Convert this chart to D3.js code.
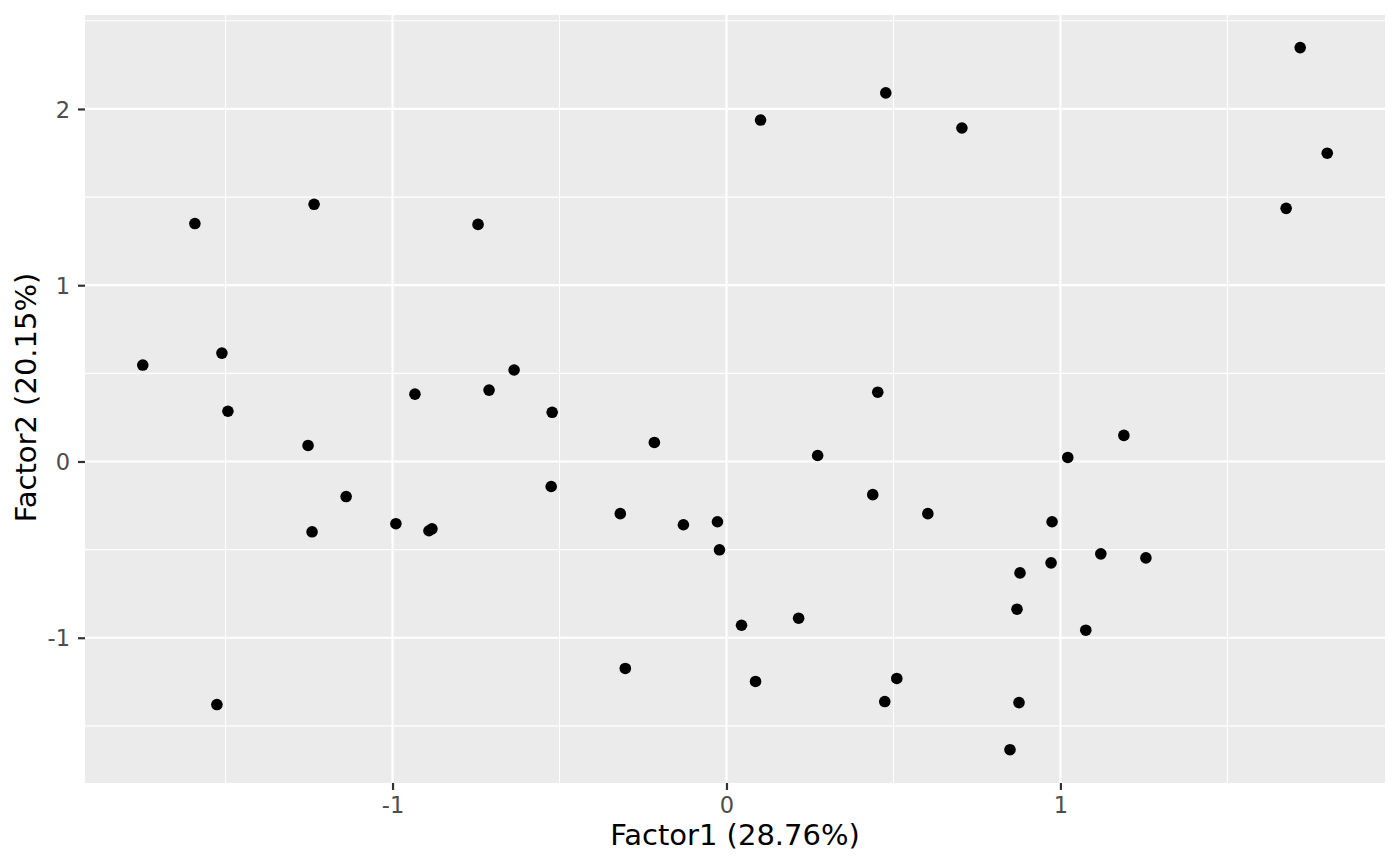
<!DOCTYPE html>
<html>
<head>
<meta charset="utf-8">
<script src="https://cdn.jsdelivr.net/npm/d3@7.9.0/dist/d3.min.js"></script>
<style>
  body { margin: 0; background: #fff; }
  svg { display: block; font-family: "DejaVu Sans", sans-serif; }
</style>
</head>
<body>
<svg id="chart" width="1400" height="866"></svg>
<script>
// factor scores
const factor1 = [-1.748, -1.592, -1.511, -1.493, -1.526, -1.235, -1.253, -1.241, -1.139, -0.990,
  -0.933, -0.891, -0.882, -0.744, -0.711, -0.636, -0.522, -0.525, -0.318, -0.303,
  -0.216, -0.129, -0.027, -0.021, 0.045, 0.087, 0.102, 0.216, 0.273, 0.438,
  0.453, 0.477, 0.474, 0.510, 0.603, 0.705, 0.849, 0.870, 0.879, 0.876,
  0.972, 0.975, 1.022, 1.076, 1.121, 1.190, 1.256, 1.676, 1.718, 1.799];
const factor2 = [0.547, 1.350, 0.615, 0.285, -1.379, 1.459, 0.091, -0.399, -0.199, -0.353,
  0.382, -0.393, -0.382, 1.345, 0.405, 0.519, 0.279, -0.142, -0.296, -1.174,
  0.108, -0.359, -0.342, -0.501, -0.929, -1.248, 1.937, -0.889, 0.034, -0.188,
  0.393, 2.091, -1.362, -1.231, -0.296, 1.892, -1.635, -0.838, -0.632, -1.368,
  -0.575, -0.342, 0.023, -0.957, -0.524, 0.148, -0.547, 1.436, 2.348, 1.749];

const xTicks = [-1, 0, 1];
const yTicks = [-1, 0, 1, 2];
const xMinor = [-1.5, -0.5, 0.5, 1.5];
const yMinor = [-1.5, -0.5, 0.5, 1.5, 2.5];

const points = factor1.map((f, i) => ({ x: f, y: factor2[i] }));

const svg = d3.select('#chart');
const panel = { left: 85, right: 1385, top: 15, bottom: 783 };

const x = d3.scaleLinear().domain([-1.921, 1.972]).range([panel.left, panel.right]);
const y = d3.scaleLinear().domain([-1.824, 2.533]).range([panel.bottom, panel.top]);

svg.append('rect')
  .attr('x', panel.left).attr('y', panel.top)
  .attr('width', panel.right - panel.left)
  .attr('height', panel.bottom - panel.top)
  .attr('fill', '#EBEBEB');

const grid = svg.append('g');
xMinor.forEach(v => grid.append('line')
  .attr('x1', x(v)).attr('x2', x(v)).attr('y1', panel.top).attr('y2', panel.bottom)
  .attr('stroke', '#fff').attr('stroke-width', 1.1));
yMinor.forEach(v => grid.append('line')
  .attr('y1', y(v)).attr('y2', y(v)).attr('x1', panel.left).attr('x2', panel.right)
  .attr('stroke', '#fff').attr('stroke-width', 1.1));
xTicks.forEach(v => grid.append('line')
  .attr('x1', x(v)).attr('x2', x(v)).attr('y1', panel.top).attr('y2', panel.bottom)
  .attr('stroke', '#fff').attr('stroke-width', 2.2));
yTicks.forEach(v => grid.append('line')
  .attr('y1', y(v)).attr('y2', y(v)).attr('x1', panel.left).attr('x2', panel.right)
  .attr('stroke', '#fff').attr('stroke-width', 2.2));

// R prints a plain hyphen for negatives
const fmt = d => String(d);

const xAxis = svg.append('g')
  .attr('transform', `translate(0,${panel.bottom})`)
  .call(d3.axisBottom(x).tickValues(xTicks).tickSize(7).tickPadding(6).tickFormat(fmt));
const yAxis = svg.append('g')
  .attr('transform', `translate(${panel.left},0)`)
  .call(d3.axisLeft(y).tickValues(yTicks).tickSize(7).tickPadding(8).tickFormat(fmt));

[xAxis, yAxis].forEach(a => {
  a.attr('font-size', null).attr('font-family', null);
  a.select('.domain').remove();
  a.selectAll('line').attr('stroke', '#333333').attr('stroke-width', 2.2);
  a.selectAll('text')
    .attr('fill', '#4D4D4D')
    .style('font-size', '22.5px')
    .style('font-family', '"DejaVu Sans", sans-serif');
});
xAxis.selectAll('text').attr('dy', '0.74em');
yAxis.selectAll('text').attr('dy', '0.36em');

svg.append('g').selectAll('circle')
  .data(points)
  .join('circle')
  .attr('cx', d => x(d.x))
  .attr('cy', d => y(d.y))
  .attr('r', 5.8)
  .attr('fill', '#000');

svg.append('text')
  .attr('x', 735)
  .attr('y', 845)
  .attr('text-anchor', 'middle')
  .style('font-size', '29px')
  .text('Factor1 (28.76%)');

svg.append('text')
  .attr('transform', 'translate(36,397.5) rotate(-90)')
  .attr('text-anchor', 'middle')
  .style('font-size', '29px')
  .text('Factor2 (20.15%)');
</script>
</body>
</html>
